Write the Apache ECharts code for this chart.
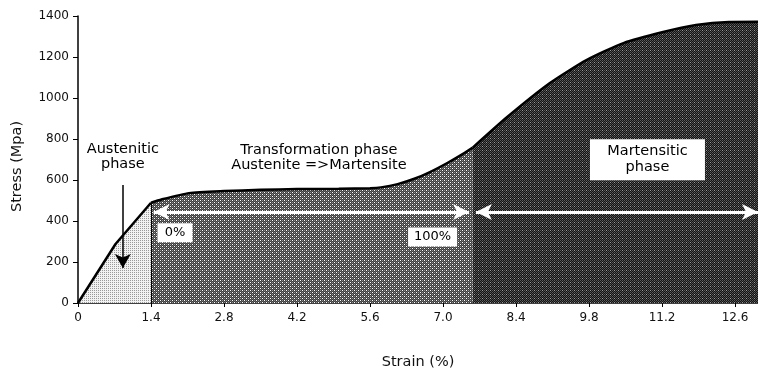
<!DOCTYPE html>
<html>
<head>
<meta charset="utf-8">
<script src="https://cdn.jsdelivr.net/npm/echarts@6/dist/echarts.min.js"></script>
<style>
html,body{margin:0;padding:0;background:#fff;}
#c{width:758px;height:372px;}
</style>
</head>
<body>
<div id="c"></div>
<script>
// ---- data (strain %, stress MPa) ----
const austeniteStrain = [0, 0.72, 1.4];
const austeniteStress = [0, 288, 489];
const transformStrain = [1.4, 1.6, 2.13, 2.8, 3.5, 4.2, 5.0, 5.6, 5.81, 6.13, 6.45, 6.76, 7.09, 7.4, 7.57];
const transformStress = [489, 505, 536, 546, 552, 556, 557, 560, 564, 580, 606, 640, 684, 730, 758];
const martensiteStrain = [7.57, 8.23, 9.05, 9.75, 10.46, 11.22, 11.85, 12.48, 13.04];
const martensiteStress = [758, 907, 1073, 1185, 1268, 1322, 1356, 1371, 1372];
const xTickLabels = ['0', '1.4', '2.8', '4.2', '5.6', '7.0', '8.4', '9.8', '11.2', '12.6'];
const xStep = 1.4;
const xMax = 13.04;
const yTickLabels = ['0', '200', '400', '600', '800', '1000', '1200', '1400'];
const yStep = 200;
const arrowStress = 444;
const arrow1 = [1.45, 7.5];
const arrow2 = [7.63, 13.04];
const austArrowStrain = 0.86;
const austArrowStress = [576, 171];

function pairs(xs, ys) { return xs.map((x, i) => [x, ys[i]]); }

function pattern(size, bg, dots) {
  const c = document.createElement('canvas');
  c.width = size; c.height = size;
  const g = c.getContext('2d');
  g.fillStyle = bg; g.fillRect(0, 0, size, size);
  dots.forEach(d => { g.fillStyle = d[2]; g.fillRect(d[0], d[1], 1, 1); });
  return c;
}
const lightPat = pattern(2, '#f2f2f2', [[0, 0, '#999999']]);
const midPat = pattern(4, '#3e3e3e', [
  [0, 0, '#ffffff'], [2, 2, '#ffffff'],
  [2, 0, '#909090'], [0, 2, '#909090'],
  [1, 1, '#606060'], [3, 1, '#606060'], [1, 3, '#606060'], [3, 3, '#606060']
]);
const darkPat = pattern(4, '#121212', [[0, 0, '#5a5a5a'], [2, 0, '#5a5a5a'], [1, 1, '#4a4a4a'], [3, 1, '#4a4a4a'], [0, 2, '#5a5a5a'], [2, 2, '#9a9a9a'], [1, 3, '#4a4a4a'], [3, 3, '#4a4a4a']]);

const FONT = 'DejaVu Sans';
const chart = echarts.init(document.getElementById('c'), null, {renderer: 'canvas'});

const lineStyle = {color: '#000', width: 2.5};
const noLabel = {show: false};

chart.setOption({
  animation: false,
  backgroundColor: '#fff',
  grid: {left: 78, right: 0, top: 16, bottom: 69, containLabel: false, outerBoundsMode: 'none'},
  xAxis: {
    type: 'value', min: 0, max: xMax, interval: xStep,
    name: 'Strain (%)', nameLocation: 'middle', nameGap: 52,
    nameTextStyle: {fontFamily: FONT, fontSize: 14.5, color: '#111'},
    axisLine: {lineStyle: {color: '#000', width: 1.5}},
    axisTick: {show: true, length: 4, lineStyle: {color: '#000'}},
    axisLabel: {
      fontFamily: FONT, fontSize: 12, color: '#111', margin: 9, showMaxLabel: false,
      formatter: v => {
        const i = Math.round(v / xStep);
        return Math.abs(v - i * xStep) < 1e-6 && xTickLabels[i] !== undefined ? xTickLabels[i] : '';
      }
    },
    splitLine: {show: false}
  },
  yAxis: {
    type: 'value', min: 0, max: 1400, interval: yStep,
    name: 'Stress (Mpa)', nameLocation: 'middle', nameGap: 53, nameRotate: 90,
    nameTextStyle: {fontFamily: FONT, fontSize: 14.5, color: '#111', padding: [0, 14, 0, 0]},
    axisLine: {show: true, lineStyle: {color: '#000', width: 1.5}},
    axisTick: {show: true, length: 5, lineStyle: {color: '#000'}},
    axisLabel: {
      fontFamily: FONT, fontSize: 12, color: '#111', margin: 9,
      formatter: v => { const i = Math.round(v / yStep); return yTickLabels[i] !== undefined ? yTickLabels[i] : ''; }
    },
    splitLine: {show: false}
  },
  series: [
    {
      name: 'Austenitic', type: 'line', symbol: 'none', silent: true,
      data: pairs(austeniteStrain, austeniteStress),
      lineStyle: lineStyle,
      areaStyle: {color: {image: lightPat, repeat: 'repeat'}, opacity: 1},
      markLine: {
        silent: true, symbol: ['none', 'arrow'], symbolSize: [12, 14], label: noLabel,
        lineStyle: {color: '#000', width: 1.5, type: 'solid'},
        data: [[{coord: [austArrowStrain, austArrowStress[0]]}, {coord: [austArrowStrain, austArrowStress[1]]}]]
      },
      markPoint: {
        silent: true,
        data: [{
          coord: [0.86, 712], symbol: 'rect', symbolSize: 1, itemStyle: {color: 'rgba(0,0,0,0)'},
          label: {show: true, position: 'inside', formatter: 'Austenitic\nphase', fontFamily: FONT, fontSize: 14.5, lineHeight: 15, color: '#000', align: 'center'}
        }]
      }
    },
    {
      name: 'Transformation', type: 'line', symbol: 'none', silent: true, smooth: 0.2,
      data: pairs(transformStrain, transformStress),
      lineStyle: lineStyle,
      areaStyle: {color: {image: midPat, repeat: 'repeat'}, opacity: 1},
      markLine: {
        silent: true, symbol: ['none', 'none'], label: noLabel,
        lineStyle: {color: '#000', width: 1, type: 'solid'},
        data: [[{coord: [austeniteStrain[2], 0]}, {coord: [austeniteStrain[2], austeniteStress[2]]}]]
      },
      markPoint: {
        silent: true,
        data: [
          {
            coord: [4.62, 708], symbol: 'rect', symbolSize: 1, itemStyle: {color: 'rgba(0,0,0,0)'},
            label: {show: true, position: 'inside', formatter: 'Transformation phase\nAustenite =>Martensite', fontFamily: FONT, fontSize: 14.5, lineHeight: 15, color: '#000', align: 'center'}
          },
          {
            coord: [1.86, 343], symbol: 'rect', symbolSize: [35, 19], itemStyle: {color: '#fff'},
            label: {show: true, position: 'inside', formatter: '0%', fontFamily: FONT, fontSize: 13, color: '#000'}
          },
          {
            coord: [6.8, 322], symbol: 'rect', symbolSize: [49, 19], itemStyle: {color: '#fff'},
            label: {show: true, position: 'inside', formatter: '100%', fontFamily: FONT, fontSize: 13, color: '#000'}
          }
        ]
      }
    },
    {
      name: 'Martensitic', type: 'line', symbol: 'none', silent: true, smooth: 0.2,
      data: pairs(martensiteStrain, martensiteStress),
      lineStyle: lineStyle,
      areaStyle: {color: {image: darkPat, repeat: 'repeat'}, opacity: 1},
      markLine: {
        silent: true, symbol: ['arrow', 'arrow'], symbolSize: [12, 16], label: noLabel,
        lineStyle: {color: '#fff', width: 3, type: 'solid'},
        data: [
          [{coord: [arrow1[0], arrowStress]}, {coord: [arrow1[1], arrowStress]}],
          [{coord: [arrow2[0], arrowStress]}, {coord: [arrow2[1], arrowStress]}]
        ]
      },
      markPoint: {
        silent: true,
        data: [{
          coord: [10.92, 699], symbol: 'rect', symbolSize: [115, 41], itemStyle: {color: '#fff'},
          label: {show: true, position: 'inside', formatter: 'Martensitic\nphase', fontFamily: FONT, fontSize: 14.5, lineHeight: 16, color: '#000', align: 'center'}
        }]
      }
    }
  ]
});
</script>
</body>
</html>
